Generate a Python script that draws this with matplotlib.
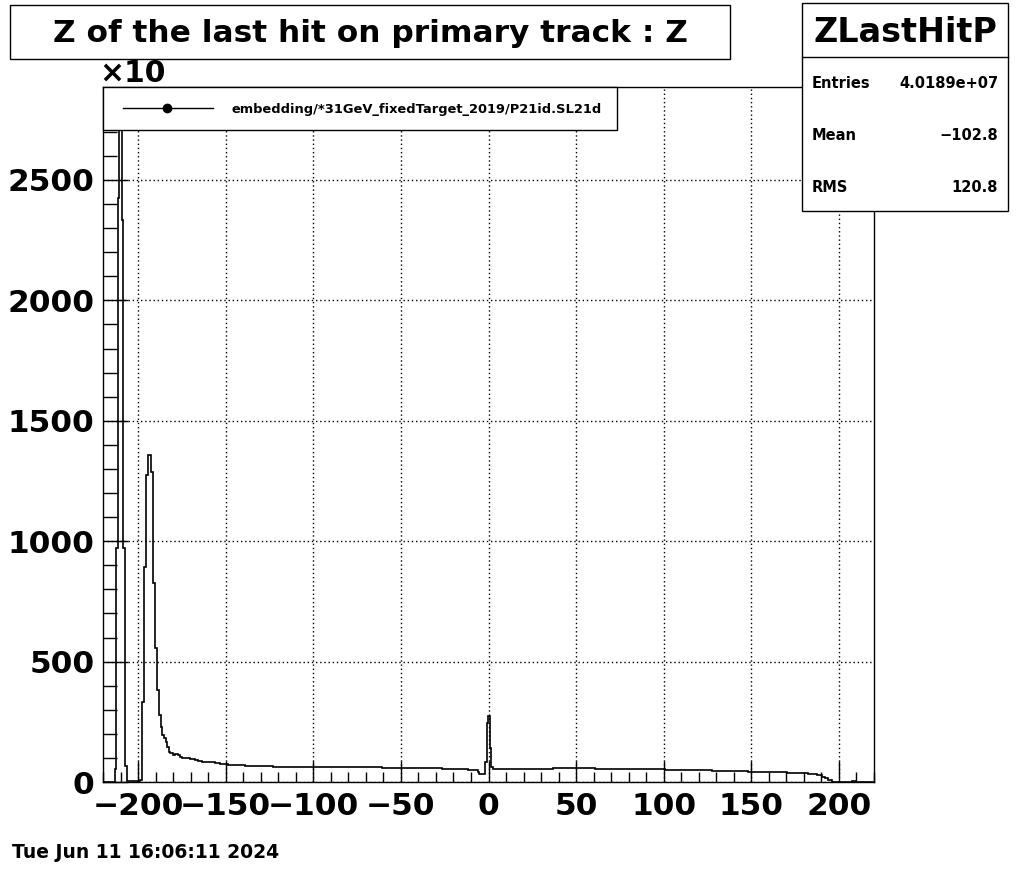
import numpy as np
import matplotlib
matplotlib.use("Agg")
import matplotlib.pyplot as plt
from matplotlib.patches import Rectangle
from matplotlib.lines import Line2D

plt.rcParams['font.family'] = ['DejaVu Sans']

# step edges (cm) and bin contents (x10)
edges = [-220, -213.2, -212.6, -211.4, -210.7, -209.3, -208.8, -207.4, -206.5,
         -198.9, -197.6, -196.8, -195.3, -194.3, -192.8, -191.6, -190.3, -189.0,
         -187.9, -187.1, -186.2, -185.0, -184.2, -183.3, -182.5, -181.6, -179.9,
         -178.9, -177.4, -176.1, -175.1, -172.2, -170.4, -167.5, -165.6, -163.7,
         -159.9, -156.1, -153.2, -150.4, -148.5, -139.0, -122.8, -60.8, -59.6,
         -58.5, -57.4, -26.7, -11.5, -6.2, -5.2, -1.8, -1.1, -0.5, 0.9, 1.4,
         2.4, 5.2, 36.6, 60.7, 63.6, 100.7, 127.3, 146.3, 148.0, 170.1, 182.5,
         187.2, 190.1, 192.0, 193.9, 195.8, 207.5, 209.5, 220]
counts = [0, 53, 970, 2425, 2750, 2334, 970, 66,
          4, 10, 333, 894, 1275, 1358, 1286, 825, 555,
          382, 278, 230, 195, 184, 167, 147, 126, 119,
          112, 115, 112, 105, 98, 101, 95, 91, 87,
          84, 82, 78, 75, 73, 71, 65, 61, 57,
          60, 57, 58, 54, 50, 43, 32, 84, 244, 274, 142,
          62, 56, 53, 57, 55, 53, 50, 46, 44, 43, 39,
          33, 29, 22, 15, 8, 0, 6, 0]

title = "Z of the last hit on primary track : Z"
legend_label = "embedding/*31GeV_fixedTarget_2019/P21id.SL21d"
stat_name = "ZLastHitP"
stat_rows = [("Entries", "4.0189e+07"), ("Mean", "\u2212102.8"), ("RMS", "120.8")]
stamp = "Tue Jun 11 16:06:11 2024"

W, H = 1029, 869
fig = plt.figure(figsize=(W / 100, H / 100), dpi=100)
fx = lambda px: px / W
fy = lambda py: 1 - py / H

ax = fig.add_axes([fx(103), fy(782), fx(874) - fx(103), fy(87) - fy(782)])
ax.stairs(counts, edges, color="k", lw=1.2, baseline=0)
ax.set_xlim(-220, 220)
ax.set_ylim(0, 2886)
ax.set_xticks(np.arange(-200, 201, 50))
ax.set_xticks(np.arange(-220, 221, 10), minor=True)
ax.set_yticks(np.arange(0, 2501, 500))
ax.set_yticks(np.arange(0, 2801, 100), minor=True)
ax.grid(True, which="major", color="k", ls=(0, (1, 2)), lw=1)
ax.tick_params(axis="x", which="major", direction="in", length=15, width=1, pad=7)
ax.tick_params(axis="x", which="minor", direction="in", length=7.2, width=1)
ax.tick_params(axis="y", which="major", direction="in", length=18, width=1, pad=6)
ax.tick_params(axis="y", which="minor", direction="in", length=10, width=1)
for lab in ax.get_xticklabels() + ax.get_yticklabels():
    lab.set_fontsize(22.5)
    lab.set_fontweight("bold")
for s in ax.spines.values():
    s.set_linewidth(1)

# multiplier
fig.text(fx(99), fy(73), "\u00d710", fontsize=21.5, fontweight="bold", va="center", ha="left")

# legend box
fig.add_artist(Rectangle((fx(103), fy(130)), fx(617) - fx(103), fy(87) - fy(130),
                         transform=fig.transFigure, fc="white", ec="k", lw=1, zorder=5))
fig.add_artist(Line2D([fx(123), fx(213)], [fy(108), fy(108)], transform=fig.transFigure,
                      color="k", lw=1, zorder=6))
fig.add_artist(Line2D([fx(167)], [fy(108)], transform=fig.transFigure, color="k",
                      marker="o", ms=6, zorder=6))
fig.text(fx(231), fy(109), legend_label, fontsize=9.4, fontweight="bold",
         va="center", ha="left", zorder=7)

# title box
fig.add_artist(Rectangle((fx(10), fy(59)), fx(730) - fx(10), fy(5) - fy(59),
                         transform=fig.transFigure, fc="white", ec="k", lw=1, zorder=5))
fig.text(fx(370), fy(33), title, fontsize=22.5, fontweight="bold",
         va="center", ha="center", zorder=7)

# stats box
fig.add_artist(Rectangle((fx(802), fy(211)), fx(1008) - fx(802), fy(3) - fy(211),
                         transform=fig.transFigure, fc="white", ec="k", lw=1, zorder=5))
fig.add_artist(Line2D([fx(802), fx(1008)], [fy(57), fy(57)], transform=fig.transFigure,
                      color="k", lw=1, zorder=6))
fig.text(fx(905), fy(32), stat_name, fontsize=24, fontweight="bold",
         va="center", ha="center", zorder=7)
for i, (k, v) in enumerate(stat_rows):
    yy = 83 + 52 * i
    fig.text(fx(812), fy(yy), k, fontsize=10.5, fontweight="bold", va="center", ha="left", zorder=7)
    fig.text(fx(998), fy(yy), v, fontsize=10.5, fontweight="bold", va="center", ha="right", zorder=7)

fig.text(fx(12), fy(853), stamp, fontsize=13.5, fontweight="bold", va="center", ha="left")

fig.savefig("out.png", dpi=100)
